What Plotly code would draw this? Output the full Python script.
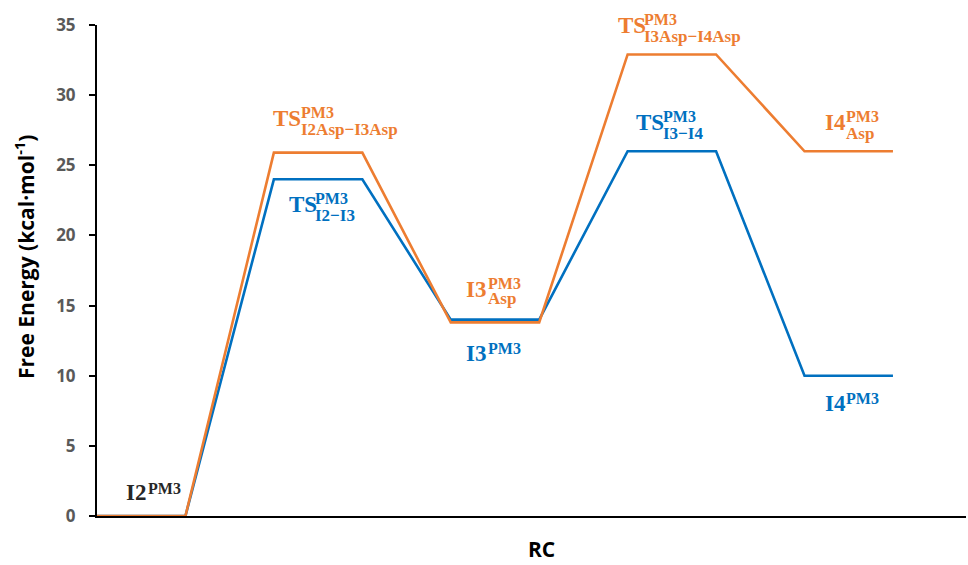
import plotly.graph_objects as go

# ---------------- data ----------------
states = ["I2", "TS1", "I3", "TS2", "I4"]
blue_energy = [0, 24, 14, 26, 10]
orange_energy = [0, 25.9, 13.8, 32.9, 26]
y_ticks = [0, 5, 10, 15, 20, 25, 30, 35]

BLUE = "#0070C0"
ORANGE = "#ED7D31"
BLACK = "#262626"

def profile(energies):
    xs, ys = [], []
    for i, e in enumerate(energies):
        xs += [2 * i, 2 * i + 1]
        ys += [e, e]
    return xs, ys

fig = go.Figure()
bx, by = profile(blue_energy)
ox, oy = profile(orange_energy)
fig.add_trace(go.Scatter(x=bx, y=by, mode="lines", line=dict(color=BLUE, width=2.6),
                         showlegend=False, hoverinfo="skip"))
fig.add_trace(go.Scatter(x=ox, y=oy, mode="lines", line=dict(color=ORANGE, width=2.6),
                         showlegend=False, hoverinfo="skip"))

W, H = 968, 565
ML, MR, MT, MB = 97, 2, 25, 49
XMAX = (W - ML - MR) / 88.44

def pxx(px):
    return (px - ML) / (W - ML - MR)

def pxy(py):
    return (H - MB - py) / (H - MB - MT)

SERIF = "Liberation Serif"
annos = []

def txt(xpx, ypx, text, color, size):
    annos.append(dict(x=pxx(xpx), y=pxy(ypx), xref="paper", yref="paper", text=text,
                      showarrow=False, xanchor="left", yanchor="middle",
                      font=dict(family=SERIF, size=size, color=color, weight="bold")))

def label(base, bx_, by_, sup, sx, sy, sub, subx, suby, color):
    txt(bx_, by_ - 2, base, color, 23)
    txt(sx, sy, sup, color, 16)
    if sub:
        txt(subx, suby + 1, sub, color, 17)

label("I2", 124, 494, "PM3", 146, 488, None, 0, 0, BLACK)
label("TS", 271, 120, "PM3", 299, 113, "I2Asp−I3Asp", 299, 128, ORANGE)
label("TS", 287, 206, "PM3", 313, 199, "I2−I3", 313, 214, BLUE)
label("I3", 464, 291, "PM3", 486, 283, "Asp", 486, 297, ORANGE)
label("I3", 464, 355, "PM3", 486, 348, None, 0, 0, BLUE)
label("TS", 616, 27, "PM3", 642, 20, "I3Asp−I4Asp", 642, 35, ORANGE)
label("TS", 634, 124, "PM3", 661, 117, "I3−I4", 661, 132, BLUE)
label("I4", 823, 125, "PM3", 844, 117, "Asp", 844, 132, ORANGE)
label("I4", 823, 405, "PM3", 844, 398, None, 0, 0, BLUE)

annos.append(dict(x=pxx(24), y=pxy(257), xref="paper", yref="paper",
                  text="Free Energy (kcal·mol<sup>-1</sup>)", textangle=-90, showarrow=False,
                  xanchor="center", yanchor="middle",
                  font=dict(family="Open Sans", size=21, color="black", weight="bold")))
annos.append(dict(x=pxx(541), y=pxy(565), xref="paper", yref="paper",
                  text="RC", showarrow=False, xanchor="center", yanchor="bottom",
                  font=dict(family="Open Sans", size=21, color="black", weight="bold")))

fig.update_layout(
    width=W, height=H, margin=dict(l=ML, r=MR, t=MT, b=MB),
    plot_bgcolor="white", paper_bgcolor="white",
    annotations=annos,
    xaxis=dict(range=[0, XMAX], showgrid=False, zeroline=False, showticklabels=False,
               ticks="", showline=True, linecolor="black", linewidth=2, layer="below traces"),
    yaxis=dict(range=[0, 35], tickvals=y_ticks, showgrid=False, zeroline=False,
               showline=True, linecolor="black", linewidth=2, ticks="outside", ticklen=6,
               tickwidth=2, tickcolor="black", layer="below traces", ticklabelstandoff=10,
               tickfont=dict(family="Open Sans", size=17, color="#595959", weight="bold")),
)

fig.write_html("out.html")
